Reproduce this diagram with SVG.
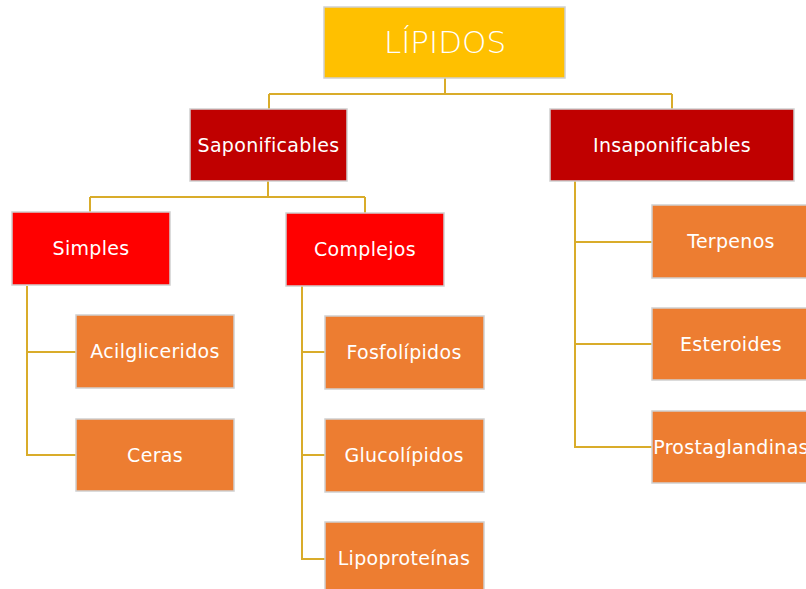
<svg xmlns="http://www.w3.org/2000/svg" width="806" height="589" viewBox="0 0 806 589">
<style>
.box{stroke:#d0d0d0;stroke-width:1.5}
.t{font-family:"DejaVu Sans","Liberation Sans",sans-serif;fill:#ffffff;text-anchor:middle;dominant-baseline:central;font-size:19px;letter-spacing:0.3px}
.c{fill:none;stroke:#D9AC2A;stroke-width:2}
</style>
<rect width="806" height="589" fill="#ffffff"/>
<g id="connectors">
<path class="c" d="M445,78 V94 M269,94 H672 M269,94 V109 M672,94 V109"/>
<path class="c" d="M268,181 V197 M90,197 H365 M90,197 V212 M365,197 V213"/>
<path class="c" d="M27,286 V455 H76 M27,352 H76"/>
<path class="c" d="M302,286 V559 H325 M302,352 H325 M302,455 H325"/>
<path class="c" d="M575,181 V447 H652 M575,242 H652 M575,344 H652"/>
</g>
<g id="lipidos"><rect class="box" x="324" y="7" width="241" height="71" fill="#FFC000"/><text class="t" x="445" y="42" style="font-size:31px;font-weight:200;letter-spacing:0">LÍPIDOS</text></g>
<g id="saponificables"><rect class="box" x="190" y="109" width="157" height="72" fill="#C00000"/><text class="t" x="268.5" y="145">Saponificables</text></g>
<g id="insaponificables"><rect class="box" x="550" y="109" width="244" height="72" fill="#C00000"/><text class="t" x="672" y="145">Insaponificables</text></g>
<g id="simples"><rect class="box" x="12" y="212" width="158" height="73" fill="#FF0000"/><text class="t" x="91" y="248">Simples</text></g>
<g id="complejos"><rect class="box" x="286" y="213" width="158" height="73" fill="#FF0000"/><text class="t" x="365" y="249">Complejos</text></g>
<g id="acilgliceridos"><rect class="box" x="76" y="315" width="158" height="73" fill="#ED7D31"/><text class="t" x="155" y="351">Acilgliceridos</text></g>
<g id="ceras"><rect class="box" x="76" y="419" width="158" height="72" fill="#ED7D31"/><text class="t" x="155" y="455">Ceras</text></g>
<g id="fosfolipidos"><rect class="box" x="325" y="316" width="159" height="73" fill="#ED7D31"/><text class="t" x="404" y="352">Fosfolípidos</text></g>
<g id="glucolipidos"><rect class="box" x="325" y="419" width="159" height="73" fill="#ED7D31"/><text class="t" x="404" y="455">Glucolípidos</text></g>
<g id="lipoproteinas"><rect class="box" x="325" y="522" width="159" height="73" fill="#ED7D31"/><text class="t" x="404" y="558">Lipoproteínas</text></g>
<g id="terpenos"><rect class="box" x="652" y="205" width="158" height="73" fill="#ED7D31"/><text class="t" x="731" y="241">Terpenos</text></g>
<g id="esteroides"><rect class="box" x="652" y="308" width="158" height="72" fill="#ED7D31"/><text class="t" x="731" y="344">Esteroides</text></g>
<g id="prostaglandinas"><rect class="box" x="652" y="411" width="158" height="72" fill="#ED7D31"/><text class="t" x="731" y="447">Prostaglandinas</text></g>
</svg>
